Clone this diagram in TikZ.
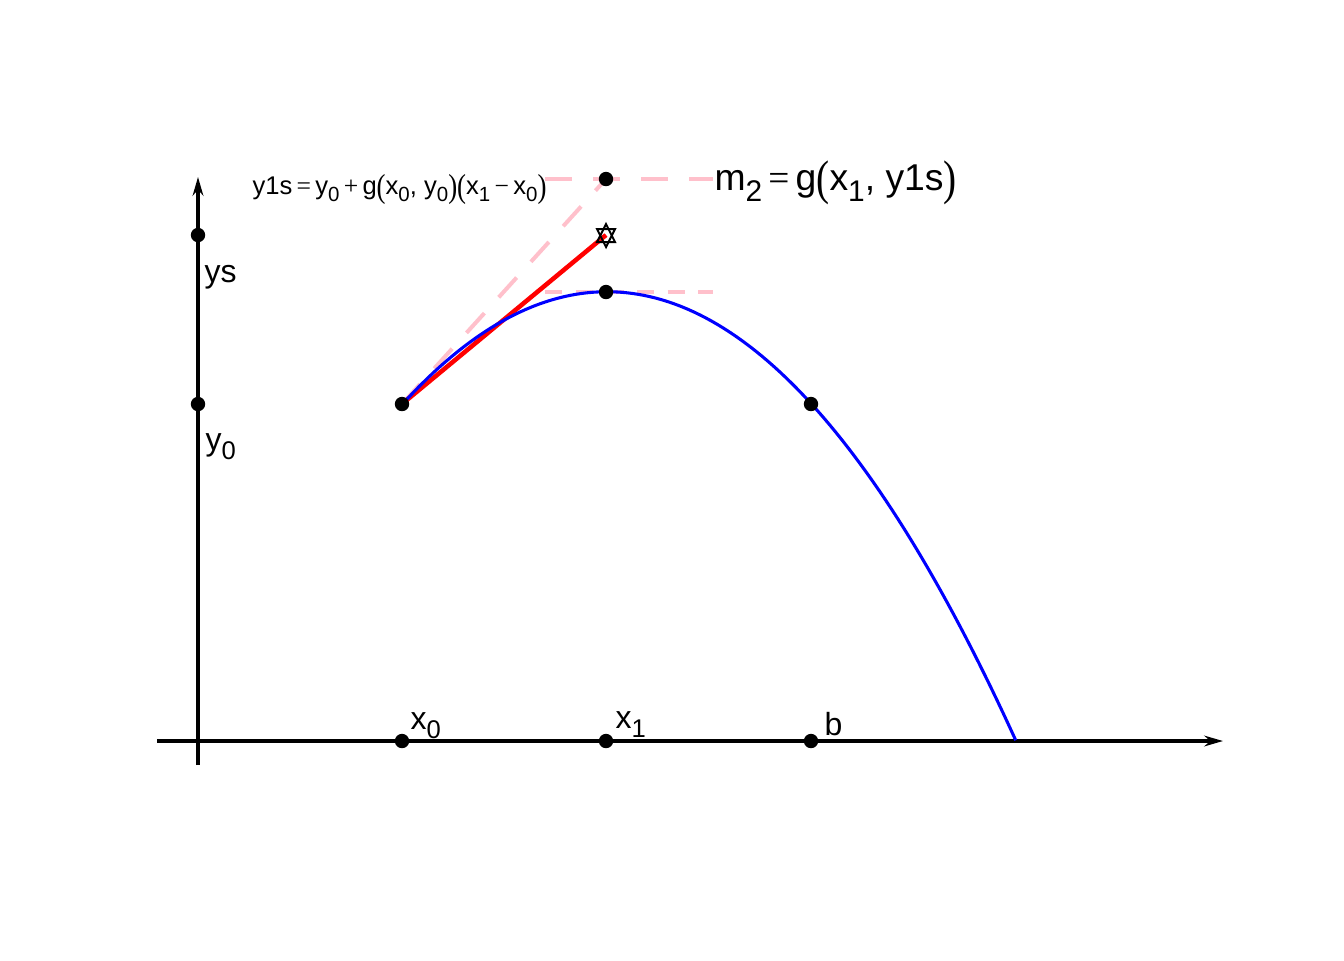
\documentclass[tikz,border=0pt]{standalone}
\usepackage{fontspec}
\setmainfont{Liberation Sans}
\newfontfamily\symf{Liberation Serif}
\usepackage{graphicx}
\usetikzlibrary{arrows.meta}
\newcommand\sbs[1]{\raisebox{-0.3em}{\scalebox{0.8}{#1}}}
\newcommand\lpar{\raisebox{-0.12em}{\scalebox{1.05}[1.3]{\symf(}}}
\newcommand\rpar{\raisebox{-0.12em}{\scalebox{1.05}[1.3]{\symf)}}}
\newcommand\opr[1]{\,{\symf #1}\,}
\definecolor{pinkc}{RGB}{255,192,203}
\begin{document}
\begin{tikzpicture}[x=0.375pt,y=-0.375pt,
  dot/.style={circle,fill=black,inner sep=0pt,minimum size=5.4pt},
  axis/.style={line width=1.4pt,-{Stealth[length=7pt,width=4pt]}},
  pinkdash/.style={draw=pinkc,line width=1.5pt,dash pattern=on 10pt off 8pt},
  pinkdashthin/.style={draw=pinkc,line width=1.4pt,dash pattern=on 6.5pt off 5pt},
  redline/.style={draw=red,line width=1.7pt},
  curve/.style={draw=blue,line width=1.15pt},
  lbl/.style={inner sep=0pt,anchor=base west,font=\fontsize{12}{14}\selectfont},
  startri/.style={draw=black,line width=0.75pt,fill=none}]
\useasboundingbox (0,0) rectangle (1344,960);
% axes
\coordinate (xs) at (157,741);
\coordinate (xe) at (1223,741);
\coordinate (ys0) at (198,765);
\coordinate (ye) at (198,177);
\draw[axis] (xs) -- (xe);
\draw[axis] (ys0) -- (ye);
% points
\node[dot] (X0) at (402,741) {};
\node[dot] (X1) at (606,741) {};
\node[dot] (B) at (811,741) {};
\node[dot] (YS) at (198,235) {};
\node[dot] (Y0) at (198,404) {};
\coordinate (P0) at (402,404);
\coordinate (PK) at (606,292);
\coordinate (PB) at (811,404);
\coordinate (PT) at (606,179);
\coordinate (S) at (606,235);
\coordinate (h1s) at (545,179);
\coordinate (h1e) at (713,179);
\coordinate (h2s) at (545,292);
\coordinate (h2e) at (713,292);
% dashed pink
\draw[pinkdash] (P0) -- (PT);
\draw[pinkdash] (h1s) -- (h1e);
\draw[pinkdashthin] (h2s) -- (h2e);
% red line
\draw[redline] (P0) -- (S);
% curve
\draw[curve] plot[domain=1:4,samples=100,variable=\u] ({198+204.5*\u},{291.7+112.3*(\u-2)^2});
% dots on curve
\node[dot] (DP0) at (P0) {};
\node[dot] (DPK) at (PK) {};
\node[dot] (DPB) at (PB) {};
\node[dot] (DPT) at (PT) {};
% star marker
\draw[startri] (606,224) -- (597,242) -- (615,242) -- cycle;
\draw[startri] (606,247) -- (597,229) -- (615,229) -- cycle;
% labels
\node[lbl] (Lys) at (204,282) {ys};
\node[lbl] (Ly0) at (205,450) {y\sbs{0}};
\node[lbl] (Lx0) at (410,729) {x\sbs{0}};
\node[lbl] (Lx1) at (615,728) {x\sbs{1}};
\node[lbl] (Lb) at (824,735) {b};
\node[inner sep=0pt,anchor=base west,font=\fontsize{9.6}{11}\selectfont] (F1) at (252,194)
 {y1s\opr{=}y\sbs{0}\opr{+}g\lpar x\sbs{0}, y\sbs{0}\rpar\lpar x\sbs{1}\opr{\textminus}x\sbs{0}\rpar};
\node[inner sep=0pt,anchor=base west,font=\fontsize{14}{16}\selectfont] (F2) at (714,190)
 {m\sbs{2}\opr{=}g\lpar x\sbs{1}, y1s\rpar};
\end{tikzpicture}
\end{document}
